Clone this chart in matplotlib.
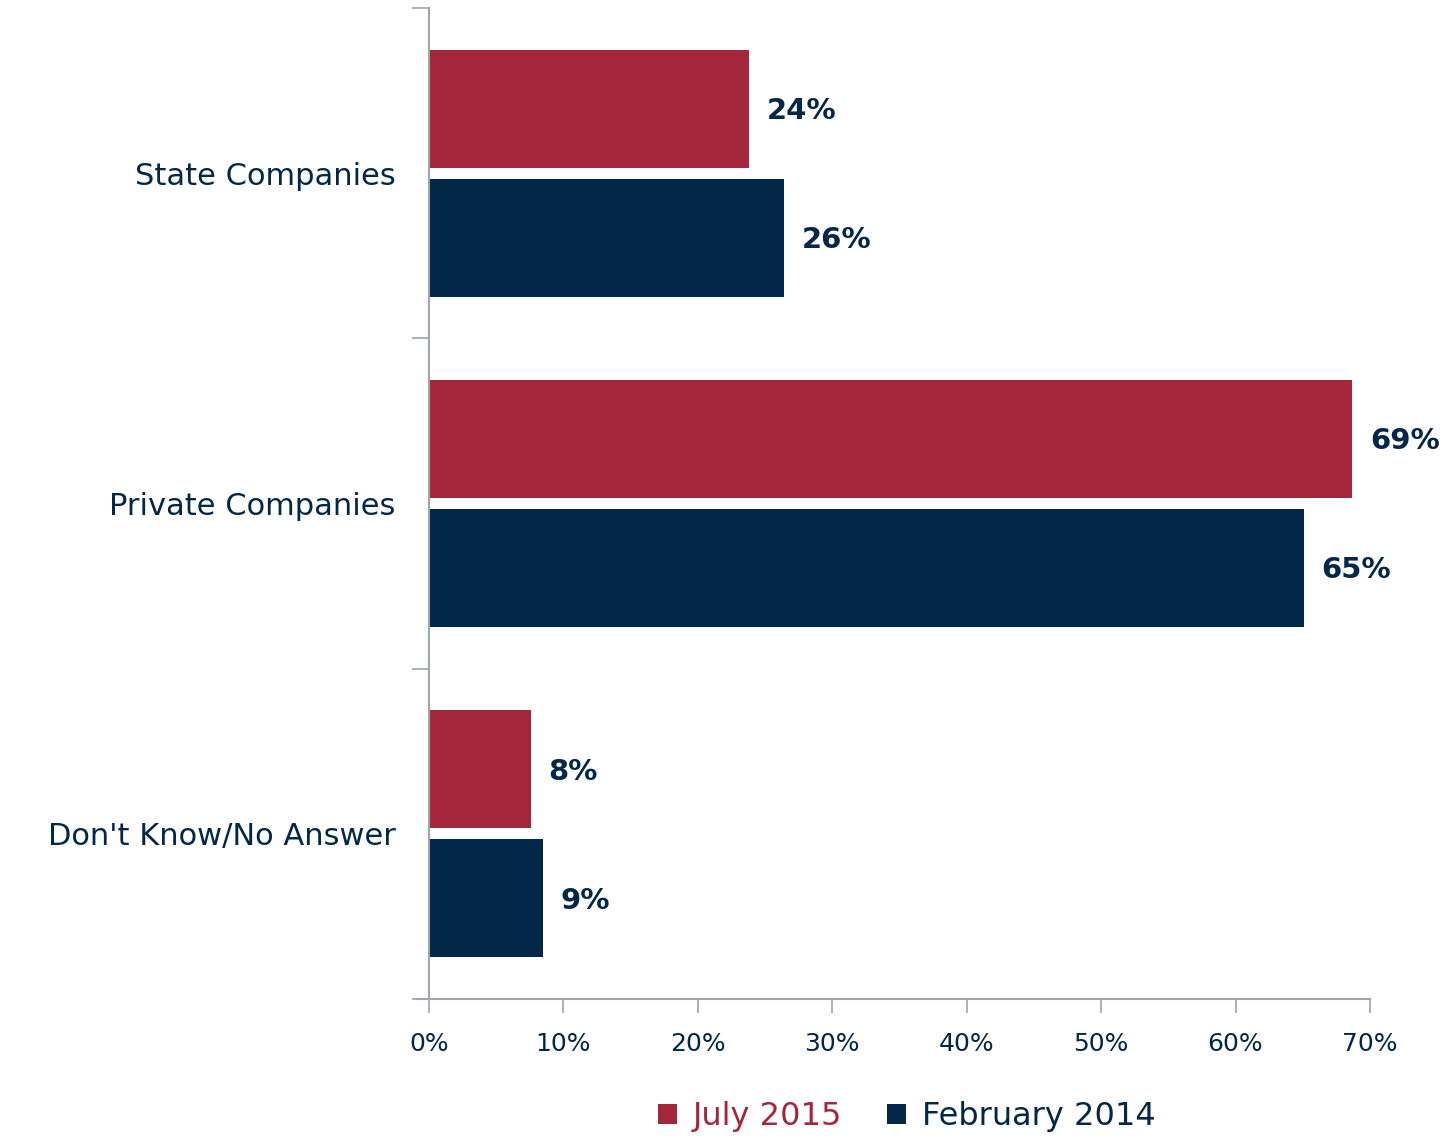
import matplotlib
matplotlib.use('Agg')
import matplotlib.pyplot as plt
import numpy as np

plt.rcParams['font.family'] = ['DejaVu Sans']

# 数据
categories = ['State Companies', 'Private Companies', "Don't Know/No Answer"]
series_names = ['July 2015', 'February 2014']
july_2015 = [23.8, 68.7, 7.6]
feb_2014 = [26.4, 65.1, 8.5]
x_ticks = [0, 10, 20, 30, 40, 50, 60, 70]

RED = '#A3263A'
NAVY = '#022748'
GRAY = '#A0A4AB'

fig = plt.figure(figsize=(14.46, 11.38), dpi=100)
ax = fig.add_axes([0.2967, 0.1222, 0.6507, 0.8708])

y = np.arange(len(categories)) + 0.5
h = 0.357
off = 0.195
b1 = ax.barh(y - off, july_2015, height=h, color=RED, label=series_names[0])
b2 = ax.barh(y + off, feb_2014, height=h, color=NAVY, label=series_names[1])

for bars, vals in [(b1, july_2015), (b2, feb_2014)]:
    for bar, v in zip(bars, vals):
        ax.text(v + 1.3, bar.get_y() + bar.get_height() / 2 + 0.007, f'{int(v + 0.5)}%',
                va='center', ha='left', fontsize=21, fontweight='bold', color=NAVY)

ax.set_ylim(len(categories), 0)
ax.set_xlim(0, 70)

# y 轴：刻度在分组边界，标签在分组中间
ax.set_yticks(np.arange(len(categories) + 1))
ax.set_yticklabels([])
ax.set_yticks(y, minor=True)
ax.set_yticklabels(categories, minor=True, fontsize=22, color=NAVY)
ax.tick_params(axis='y', which='minor', length=0, pad=24)
ax.tick_params(axis='y', which='major', length=12, width=1.2, color=GRAY)

ax.set_xticks(x_ticks)
ax.set_xticklabels([f'{t}%' for t in x_ticks], fontsize=18, color=NAVY)
ax.tick_params(axis='x', length=10, width=1.2, color=GRAY, pad=14)

for s in ['top', 'right']:
    ax.spines[s].set_visible(False)
for s in ['left', 'bottom']:
    ax.spines[s].set_color(GRAY)
    ax.spines[s].set_linewidth(1.5)
ax.spines['bottom'].set_bounds(-0.9, 70)

leg = fig.legend(handles=[b1, b2], loc='lower center', bbox_to_anchor=(0.627, -0.02),
                 ncol=2, frameon=False, fontsize=23, handlelength=0.6, handleheight=0.6,
                 handletextpad=0.5, columnspacing=1.4)
for txt, c in zip(leg.get_texts(), [RED, NAVY]):
    txt.set_color(c)

fig.savefig('out.png', dpi=100, facecolor='white')
